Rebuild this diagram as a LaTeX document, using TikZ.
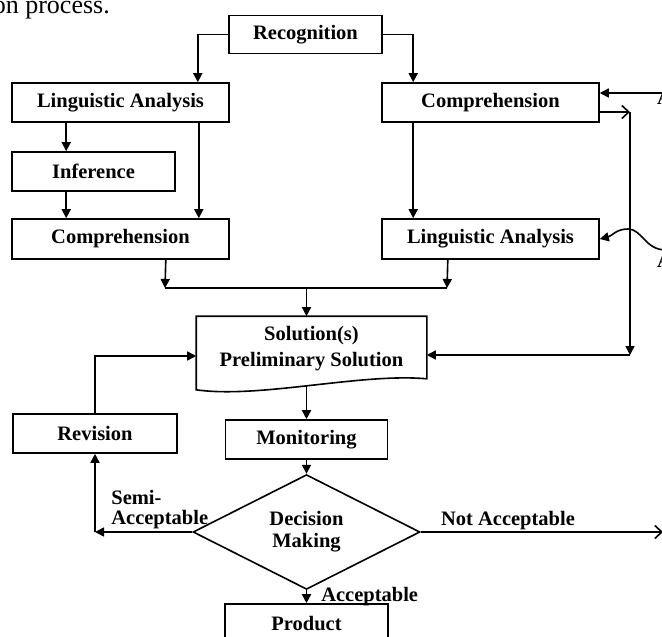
\documentclass[tikz,border=0pt]{standalone}
\usepackage{fontspec}
\setmainfont{Liberation Serif}
\usetikzlibrary{shapes.geometric,arrows.meta}
\tikzset{
  box/.style={draw,line width=1.6pt,inner sep=0pt,font=\fontsize{20.5}{26}\selectfont\bfseries},
  lbl/.style={inner sep=0pt,font=\fontsize{20.5}{20}\selectfont\bfseries},
  arr/.style={line width=1.6pt,-{Triangle[length=9pt,width=9pt]}},
  barb/.style={line width=1.6pt,-{Straight Barb[length=7pt,width=13pt]}}
}
\begin{document}
\begin{tikzpicture}[x=1pt,y=-1pt]
\useasboundingbox (0,0) rectangle (662,637);
\node[anchor=base east,inner sep=0pt,font=\fontsize{26}{28}\selectfont] (cap) at (110,13) {on process.};

\node[box,minimum width=153pt,minimum height=38pt] (rec) at (305.5,34.5) {Recognition};
\node[box,minimum width=217pt,minimum height=39pt] (la1) at (120.5,102.5) {Linguistic Analysis};
\node[box,minimum width=217pt,minimum height=39pt] (co1) at (490.5,102.5) {Comprehension};
\node[box,minimum width=163pt,minimum height=39pt] (inf) at (93.5,171.5) {Inference};
\node[box,minimum width=217pt,minimum height=40pt] (co2) at (120.5,239) {Comprehension};
\node[box,minimum width=217pt,minimum height=40pt] (la2) at (490.5,239) {Linguistic Analysis};
\node[box,draw=none,minimum width=229pt,minimum height=64pt,align=center] (sol) at (311.5,349) {Solution(s)\\Preliminary Solution};
\draw[line width=1.6pt] (sol.north west) -- (sol.north east) -- ([yshift=3pt]sol.south east)
  .. controls ([xshift=-66pt,yshift=9pt]sol.south east) and ([xshift=63pt,yshift=-17pt]sol.south west) .. ([yshift=-8pt]sol.south west) -- cycle;
\node[box,minimum width=164pt,minimum height=39pt] (rev) at (95,433.5) {Revision};
\node[box,minimum width=162pt,minimum height=39pt] (mon) at (306.5,439.5) {Monitoring};
\node[box,diamond,minimum width=227pt,minimum height=87pt,align=center,font=\fontsize{20.5}{22}\selectfont\bfseries] (dec) at (306.5,532) {Decision\\Making};
\node[box,minimum width=163pt,minimum height=40pt] (prod) at (306.5,624) {Product};
\node[lbl,anchor=base west] (a1) at (657,104) {A};
\node[lbl,anchor=base west] (a2) at (657,267) {A};

\coordinate (jl) at (165,288);
\coordinate (jr) at (447,288);
\coordinate (jm) at (306.5,288);
\coordinate (fb1) at (630,112);
\coordinate (fb2) at (630,355);
\coordinate (in1) at (664,93);
\coordinate (in2) at (666,250);
\coordinate (semi) at (95,532);
\coordinate (na) at (663,532);
\coordinate (solb) at ([yshift=-4pt]sol.south);

\draw[arr] (rec.west) -| ([xshift=-32pt]la1.north east);
\draw[arr] (rec.east) -| ([xshift=32pt]co1.north west);
\draw[arr] ([xshift=55pt]la1.south west) -- ([xshift=55pt]inf.north west);
\draw[arr] ([xshift=-31pt]la1.south east) -- ([xshift=-31pt]co2.north east);
\draw[arr] ([xshift=55pt]inf.south west) -- ([xshift=55pt]co2.north west);
\draw[arr] ([xshift=32pt]co1.south west) -- ([xshift=32pt]la2.north west);
\draw[arr] ([xshift=-64pt]co2.south east) -- (jl);
\draw[arr] ([xshift=-152pt]la2.south east) -- (jr);
\draw[line width=1.6pt] (jl) -- (jr);
\draw[arr] (jm) -- (jm |- sol.north);
\draw[arr] (solb -| mon.north) -- (mon.north);
\draw[arr] (mon.south) -- (dec.north);
\draw[arr] (dec.south) -- node[lbl,anchor=west,xshift=14pt] {Acceptable} (prod.north);
\draw[barb] (dec.east) -- node[lbl,pos=0.36,above,yshift=1pt] {Not Acceptable} (na);
\draw[arr] (dec.west) -- node[lbl,pos=0.84,anchor=south west,align=left,yshift=2pt] {Semi-\\Acceptable} (semi);
\draw[arr] (semi) -- (rev.south);
\draw[arr] (rev.north) |- ([yshift=-7pt]sol.west);
\draw[barb] ([yshift=-9.5pt]co1.east) -- (fb1);
\draw[arr] (fb1) -- (fb2);
\draw[arr] (fb2) -- ([yshift=-6pt]sol.east);
\draw[arr] (in1) -- ([yshift=9.5pt]co1.east);
\draw[arr] (in2) .. controls (645,250) and (642,229) .. (628,229) .. controls (616,229) and (612,236) .. (la2.east);
\end{tikzpicture}
\end{document}
